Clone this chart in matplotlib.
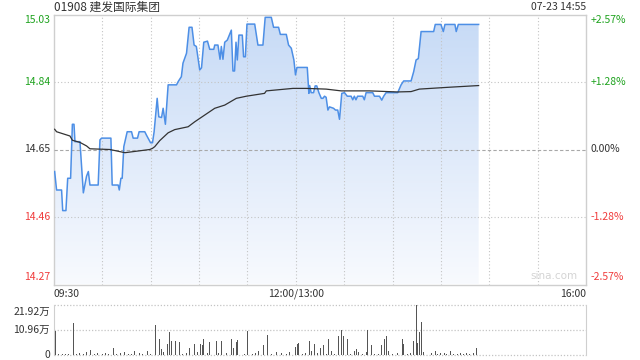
import matplotlib
matplotlib.use("Agg")
import matplotlib.pyplot as plt
import numpy as np
from matplotlib.colors import LinearSegmentedColormap

plt.rcParams['font.family'] = ['Noto Sans CJK SC', 'DejaVu Sans']

# ---------------- data ----------------
title = "01908 建发国际集团"
stamp = "07-23 14:55"
pre_close = 14.65
price_ticks = [15.03, 14.84, 14.65, 14.46, 14.27]
pct_labels = ["+2.57%", "+1.28%", "0.00%", "-1.28%", "-2.57%"]
time_labels = ["09:30", "12:00/13:00", "16:00"]
vol_ticks = [0, 10.96, 21.92]
vol_labels = ["0", "10.96万", "21.92万"]

# minutes since 09:30 (lunch break collapsed; 330 = 16:00)
price_t = [0.4, 1.6, 4.7, 5.4, 7.4, 8.5, 10.3, 11.4, 12.4, 13.0,
           16.1, 18.2, 20.2, 21.3, 22.3, 27.4, 28.5, 29.5, 35.3, 36.1,
           39.8, 40.5, 41.5, 42.3, 43.3, 45.4, 48.1, 49.1, 51.8, 52.8,
           56.3, 57.4, 59.9, 61.1, 62.1, 64.0, 65.0, 66.7, 67.7, 69.1,
           70.8, 76.0, 77.0, 79.0, 80.0, 82.2, 83.8, 85.6, 86.9, 88.3,
           90.4, 91.5, 92.9, 95.2, 96.6, 99.1, 99.7, 101.7, 103.0, 103.8,
           104.8, 105.9, 107.5, 110.0, 111.0, 112.0, 112.9, 113.7, 114.7, 116.8,
           117.6, 118.7, 119.7, 124.5, 126.5, 129.6, 131.0, 134.8, 136.2, 139.3,
           140.4, 144.1, 145.5, 147.2, 148.8, 149.8, 150.7, 157.1, 158.1, 158.6,
           159.5, 161.0, 162.0, 163.0, 164.3, 165.8, 166.8, 167.8, 168.8, 169.9,
           170.9, 173.4, 174.6, 176.0, 177.1, 178.5, 180.2, 181.9, 184.3, 185.3,
           186.3, 187.3, 188.3, 191.5, 192.5, 193.6, 197.7, 198.8, 201.9, 203.3,
           204.5, 206.0, 213.2, 215.3, 216.9, 221.5, 223.1, 224.6, 226.0, 227.7,
           235.5, 236.5, 240.0, 241.5, 242.5, 248.7, 249.5, 250.8, 263.4]
price_v = [14.588, 14.536, 14.536, 14.478, 14.478, 14.569, 14.569, 14.721, 14.721, 14.672,
           14.672, 14.528, 14.575, 14.588, 14.550, 14.550, 14.677, 14.682, 14.682, 14.550,
           14.550, 14.536, 14.569, 14.569, 14.658, 14.700, 14.700, 14.682, 14.682, 14.700,
           14.700, 14.690, 14.669, 14.669, 14.700, 14.794, 14.742, 14.740, 14.766, 14.721,
           14.832, 14.832, 14.841, 14.855, 14.893, 14.921, 14.994, 14.994, 14.944, 14.940,
           14.874, 14.880, 14.952, 14.955, 14.932, 14.932, 14.944, 14.944, 14.904, 14.940,
           14.904, 14.952, 14.958, 14.986, 14.871, 14.871, 14.952, 14.902, 14.972, 14.972,
           14.911, 14.911, 15.003, 15.003, 14.944, 14.944, 15.022, 15.022, 14.994, 14.994,
           14.974, 14.974, 14.944, 14.935, 14.902, 14.860, 14.881, 14.881, 14.808, 14.830,
           14.810, 14.810, 14.829, 14.829, 14.810, 14.794, 14.794, 14.800, 14.797, 14.761,
           14.770, 14.766, 14.761, 14.761, 14.735, 14.808, 14.810, 14.800, 14.800, 14.790,
           14.800, 14.790, 14.800, 14.800, 14.790, 14.810, 14.810, 14.800, 14.800, 14.789,
           14.800, 14.810, 14.810, 14.832, 14.843, 14.843, 14.869, 14.902, 14.906, 14.982,
           14.982, 15.002, 15.002, 14.982, 15.002, 15.002, 14.982, 15.002, 15.002]

avg_t = [0.4, 1.6, 9.9, 11.4, 16.1, 20.2, 22.3, 34.7, 44.0, 59.4, 61.0, 62.5, 65.6, 70.8,
         74.9, 83.2, 87.3, 93.5, 99.7, 105.9, 113.1, 119.3, 130.6, 131.7, 148.2, 156.5,
         168.8, 178.1, 195.7, 213.0, 221.5, 226.6, 244.2, 263.4]
avg_v = [14.707, 14.700, 14.688, 14.676, 14.670, 14.660, 14.652, 14.650, 14.641, 14.650,
         14.653, 14.658, 14.675, 14.697, 14.706, 14.714, 14.728, 14.747, 14.766, 14.775,
         14.794, 14.800, 14.808, 14.815, 14.822, 14.822, 14.820, 14.815, 14.815, 14.812,
         14.813, 14.820, 14.825, 14.830]

# volume (万股) per minute
vol_t = [0.8, 3, 5, 7, 9, 12.0, 14, 16, 18, 20,
         22.9, 25, 27, 30, 32, 34, 36.7, 39, 41, 44,
         46, 48, 50, 53, 55, 57.8, 60, 63.2, 65.2, 66.7,
         68, 70.2, 71.4, 72.9, 75.3, 77.6, 80, 82, 84.2, 87.3,
         89, 90.8, 92.0, 92.9, 95, 96.5, 98.0, 100.7, 102, 104.2,
         107, 110.4, 111.2, 113.4, 114.1, 116, 118, 120.3, 123, 125,
         127.1, 130.0, 132.7, 135, 138, 141, 144, 146, 149.8, 150.9,
         151.9, 154, 156, 158.7, 160.0, 161.8, 163.5, 165.3, 167.4, 169,
         170.5, 172.0, 174, 176.5, 178.5, 179.8, 182.2, 184, 186.2, 187.4,
         189, 191.5, 193.6, 194.6, 196.7, 199, 201, 203.3, 205.0, 206.4,
         207.5, 210, 213, 216.3, 217.0, 219, 221, 223.1, 224.6, 225.2,
         226.8, 228.0, 229.5, 232, 234, 236.5, 238, 240, 242, 243.5,
         245.8, 248, 250, 252, 254, 256, 258, 260, 262.1, 263.0]
vol_v = [10.4, 0.6, 0.4, 0.5, 0.4, 14.2, 0.5, 1.0, 0.6, 1.2,
         2.4, 0.5, 0.8, 0.6, 1.0, 0.5, 3.1, 0.6, 0.9, 1.5,
         0.6, 0.5, 1.8, 0.7, 0.5, 1.9, 0.6, 13.1, 6.9, 2.7,
         1.2, 4.9, 10.0, 6.1, 6.1, 5.7, 0.6, 1.0, 3.1, 4.9,
         1.2, 4.9, 4.4, 7.0, 0.8, 5.7, 5.7, 6.1, 0.7, 6.1,
         0.8, 7.0, 3.0, 5.7, 6.7, 0.8, 0.6, 10.6, 0.5, 0.8,
         1.9, 4.6, 8.9, 0.6, 1.2, 1.0, 0.6, 1.3, 3.7, 4.9,
         5.4, 0.6, 0.8, 6.0, 1.8, 4.9, 0.8, 3.1, 4.2, 0.6,
         7.2, 1.8, 0.6, 8.3, 10.9, 8.6, 6.9, 0.6, 1.7, 2.7,
         1.2, 0.6, 1.5, 11.2, 4.2, 0.6, 0.6, 4.6, 6.9, 8.3,
         1.8, 0.6, 0.8, 6.9, 4.9, 0.6, 1.0, 6.0, 21.92, 5.2,
         10.1, 14.6, 1.2, 0.6, 0.8, 1.8, 0.6, 0.8, 0.8, 0.6,
         1.8, 0.6, 0.6, 0.8, 0.6, 0.8, 0.6, 0.8, 3.1, 1.9]

# ---------------- style ----------------
GREEN = '#1fa31f'
RED = '#f03c3c'
GRAY_TXT = '#333333'
GRID = '#c4c4c4'
BORDER = '#cfcfcf'
LINE = '#4d8fe6'

fig = plt.figure(figsize=(6.4, 3.6), dpi=100)
W, H = 640, 360
X0, X1 = 54, 586

def axrect(x0, y0, x1, y1):
    return [x0 / W, 1 - y1 / H, (x1 - x0) / W, (y1 - y0) / H]

ax = fig.add_axes(axrect(X0, 14.5, X1, 284.5))
ax.set_xticks([])
ax.set_yticks([])
for s in ax.spines.values():
    s.set_color(BORDER)
    s.set_linewidth(1)

# grid (drawn above the fill, below the lines)
for m in range(30, 330, 30):
    ax.axvline(m, color=GRID, lw=0.8, ls=(0, (1, 2)), zorder=3)
for p in price_ticks[1:-1]:
    if p == pre_close:
        ax.axhline(p, color='#a8a8a8', lw=0.8, ls=(0, (3, 2)), zorder=3)
    else:
        ax.axhline(p, color=GRID, lw=0.8, ls=(0, (1, 2)), zorder=3)

# gradient fill under price line
poly = ax.fill_between(price_t, price_v, price_ticks[-1], color='none', lw=0)
cmap = LinearSegmentedColormap.from_list('g', ['#f8fafe', '#c6daf6'])
grad = np.linspace(0, 1, 256).reshape(-1, 1)
im = ax.imshow(grad, cmap=cmap, aspect='auto', origin='lower',
               extent=[0, 330, price_ticks[-1], price_ticks[0]], zorder=2)
im.set_clip_path(poly.get_paths()[0], transform=ax.transData)
ax.set_xlim(0, 330)
ax.set_ylim(price_ticks[-1], price_ticks[0])

ax.plot(price_t, price_v, color=LINE, lw=1.1, zorder=4)
ax.plot(avg_t, avg_v, color='#333333', lw=0.9, zorder=5)

ax.text(0.985, 0.012, "sina.com", transform=ax.transAxes, ha='right', va='bottom',
        fontsize=7.5, color='#d4d4d4', family='DejaVu Sans')

# price labels (left) and percent labels (right)
cols = [GREEN, GREEN, GRAY_TXT, RED, RED]
for i, (p, lab, c) in enumerate(zip(price_ticks, pct_labels, cols)):
    va = 'center'
    yy = p
    if i == 0:
        va = 'top'
        yy = p - 0.002
    elif i == len(price_ticks) - 1:
        va = 'bottom'
        yy = p + 0.006
    ax.annotate(f"{p:.2f}", xy=(0, yy), xycoords=('axes fraction', 'data'),
                xytext=(-3, 0), textcoords='offset points', ha='right', va=va,
                fontsize=7.5, color=c)
    ax.annotate(lab, xy=(1, yy), xycoords=('axes fraction', 'data'),
                xytext=(3, 0), textcoords='offset points', ha='left', va=va,
                fontsize=7.5, color=c)

# title & stamp
ax.annotate(title, xy=(0, 1), xycoords='axes fraction', xytext=(0, 0.5),
            textcoords='offset points', ha='left', va='bottom', fontsize=8.5, color=GRAY_TXT)
ax.annotate(stamp, xy=(1, 1), xycoords='axes fraction', xytext=(0, 1.5),
            textcoords='offset points', ha='right', va='bottom', fontsize=7.5, color=GRAY_TXT)

# time labels
for m, lab, ha in zip([0, 150, 330], time_labels, ['left', 'center', 'right']):
    ax.annotate(lab, xy=(m, 0), xycoords=('data', 'axes fraction'), xytext=(0, -3),
                textcoords='offset points', ha=ha, va='top', fontsize=7.5, color=GRAY_TXT)

# volume panel
vax = fig.add_axes(axrect(X0, 305.3, X1, 355))
vax.set_xlim(0, 330)
vax.set_ylim(0, vol_ticks[-1])
vax.set_xticks([])
vax.set_yticks([])
for k in ['left', 'right']:
    vax.spines[k].set_color(BORDER)
for k in ['top', 'bottom']:
    vax.spines[k].set_visible(False)
for v in vol_ticks:
    vax.axhline(v, color=GRID, lw=0.9, ls=(0, (1, 1.5)), zorder=1, clip_on=False)
vax.bar(vol_t, vol_v, width=0.6, color='#555555', zorder=3)
for v, lab in zip(vol_ticks, vol_labels):
    va = 'top' if v == vol_ticks[-1] else 'center'
    dy = -1 if v == vol_ticks[-1] else 0
    vax.annotate(lab, xy=(0, v), xycoords=('axes fraction', 'data'), xytext=(-3, dy),
                 textcoords='offset points', ha='right', va=va, fontsize=7.5, color=GRAY_TXT)

fig.savefig("out.png", dpi=100)
